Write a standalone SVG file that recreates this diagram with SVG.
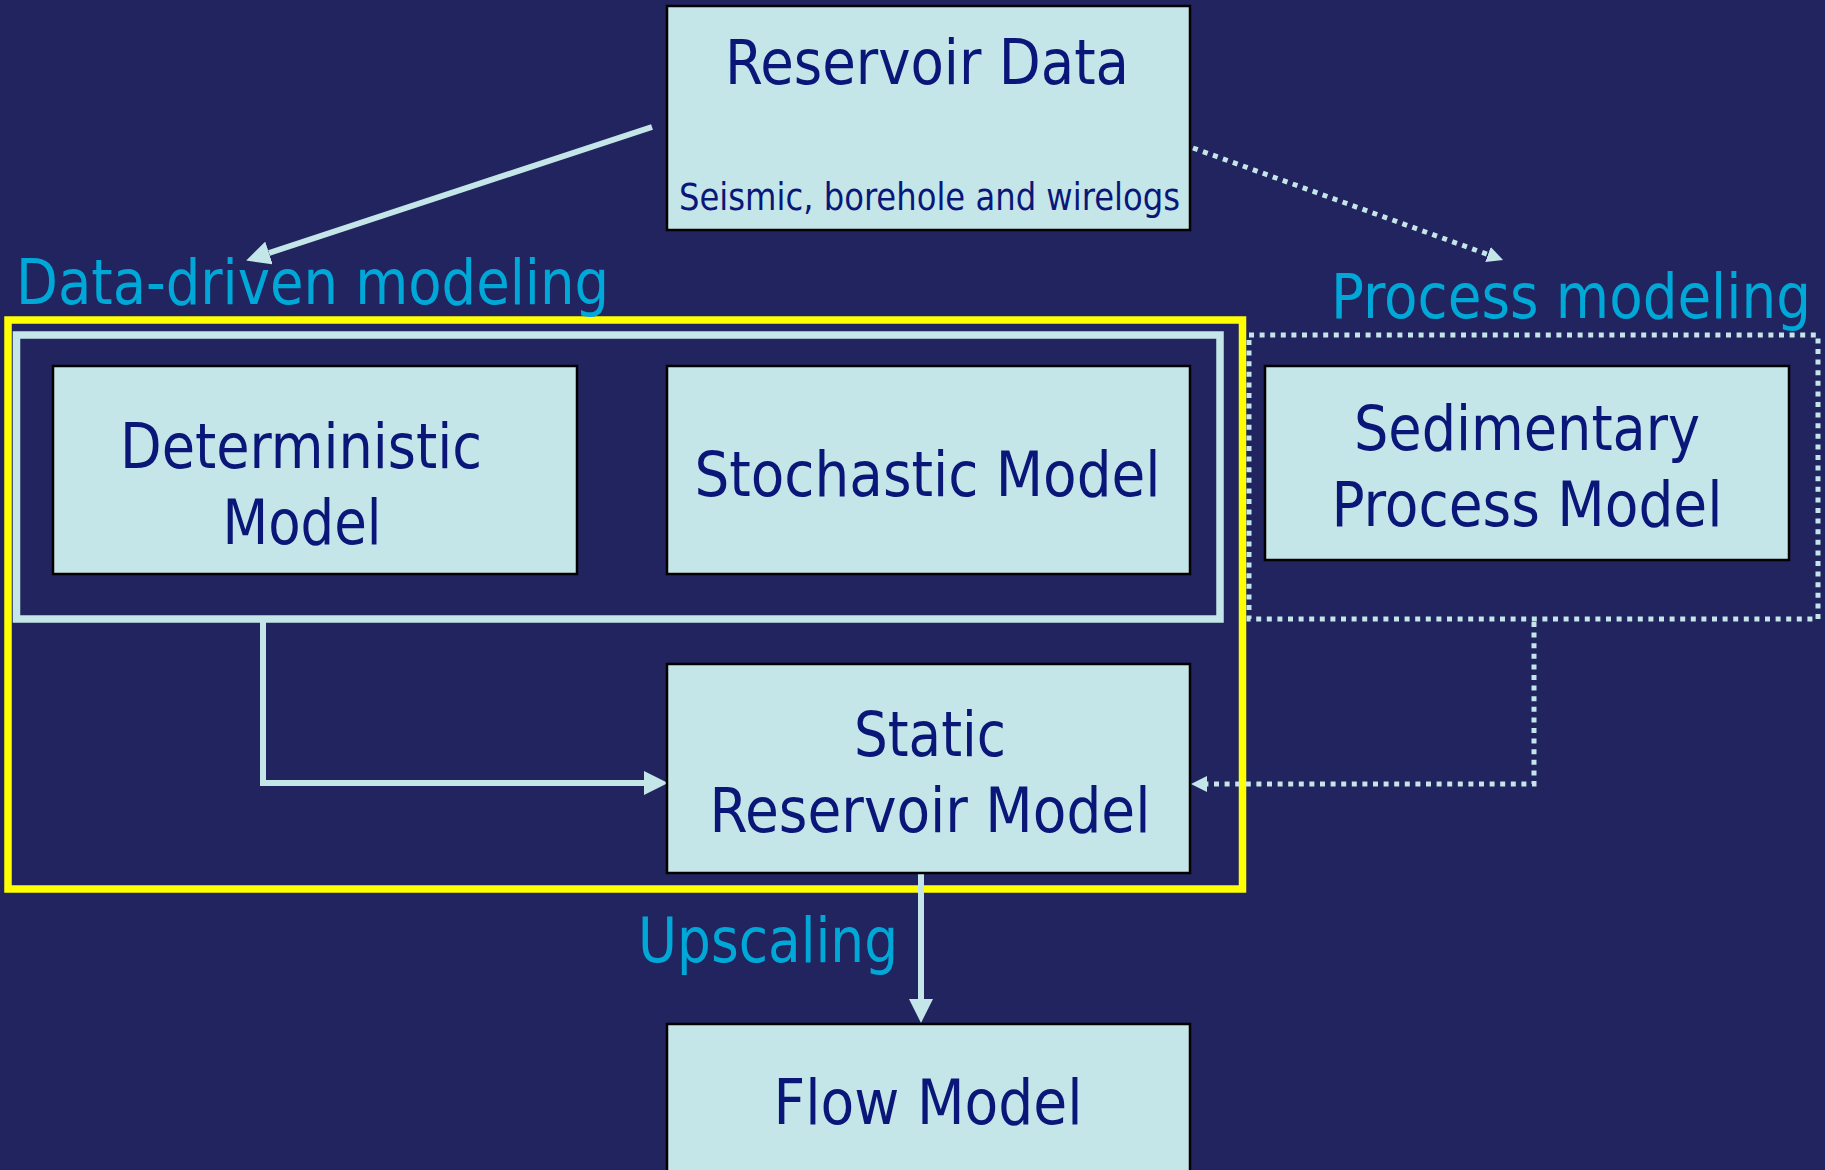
<svg xmlns="http://www.w3.org/2000/svg" width="1825" height="1170" viewBox="0 0 1825 1170">
  <defs>
    <style>
      .box { fill: #C4E6E8; stroke: #000; stroke-width: 2.5; }
      .t { font-family: "DejaVu Sans Condensed", "DejaVu Sans", sans-serif; fill: #0A1778; text-anchor: middle; }
      .big { font-size: 63px; }
      .small { font-size: 37px; }
      .lbl { font-family: "DejaVu Sans Condensed", "DejaVu Sans", sans-serif; fill: #00A8D8; font-size: 63px; }
      .solid { fill: none; stroke: #C4E6E8; stroke-width: 6; }
      .dot { fill: none; stroke: #C4E6E8; stroke-width: 5; stroke-dasharray: 5 5.6; }
    </style>
    <marker id="arrowBig" markerUnits="userSpaceOnUse" markerWidth="24" markerHeight="24" refX="0" refY="12" orient="auto" viewBox="0 0 24 24">
      <path d="M0,0 L24,12 L0,24 Z" fill="#C4E6E8"/>
    </marker>
    <marker id="arrowSmall" markerUnits="userSpaceOnUse" markerWidth="16" markerHeight="16" refX="0" refY="8" orient="auto" viewBox="0 0 16 16">
      <path d="M0,0 L16,8 L0,16 Z" fill="#C4E6E8"/>
    </marker>
  </defs>

  <rect x="0" y="0" width="1825" height="1170" fill="#21245F"/>

  <g id="frames">
    <rect id="yellow-frame" x="8" y="320" width="1234.5" height="569" fill="none" stroke="#FFFF00" stroke-width="7.5"/>
    <rect id="data-driven-frame" x="16.5" y="335" width="1203.5" height="284" fill="none" stroke="#C4E6E8" stroke-width="7.5"/>
    <rect id="process-frame" class="dot" x="1249" y="335" width="569" height="284"/>
  </g>

  <g id="connectors">
    <path class="solid" d="M652,127 L269,253" marker-end="url(#arrowBig)"/>
    <path class="solid" d="M263,622 V783 H644" marker-end="url(#arrowBig)"/>
    <path class="solid" d="M921,873 V999" marker-end="url(#arrowBig)"/>
    <path class="dot" d="M1193,148 L1488,254.5" marker-end="url(#arrowSmall)"/>
    <path class="dot" d="M1534,622 V784 H1207" marker-end="url(#arrowSmall)"/>
  </g>

  <g id="labels">
    <text class="lbl" x="16" y="304" textLength="593" lengthAdjust="spacingAndGlyphs">Data-driven modeling</text>
    <text class="lbl" x="1331" y="318" textLength="480" lengthAdjust="spacingAndGlyphs">Process modeling</text>
    <text class="lbl" x="638" y="962" textLength="260" lengthAdjust="spacingAndGlyphs">Upscaling</text>
  </g>

  <g id="reservoir-data">
    <rect class="box" x="667" y="6" width="523" height="224"/>
    <text class="t big" x="927" y="84" textLength="404" lengthAdjust="spacingAndGlyphs">Reservoir Data</text>
    <text class="t small" x="929.5" y="210" textLength="501" lengthAdjust="spacingAndGlyphs">Seismic, borehole and wirelogs</text>
  </g>

  <g id="deterministic-model">
    <rect class="box" x="53" y="366" width="524" height="208"/>
    <text class="t big" x="301" y="468" textLength="362" lengthAdjust="spacingAndGlyphs">Deterministic</text>
    <text class="t big" x="302" y="544" textLength="159" lengthAdjust="spacingAndGlyphs">Model</text>
  </g>

  <g id="stochastic-model">
    <rect class="box" x="667" y="366" width="523" height="208"/>
    <text class="t big" x="927.5" y="496" textLength="466" lengthAdjust="spacingAndGlyphs">Stochastic Model</text>
  </g>

  <g id="sedimentary-process-model">
    <rect class="box" x="1265" y="366" width="524" height="194"/>
    <text class="t big" x="1527" y="450" textLength="346" lengthAdjust="spacingAndGlyphs">Sedimentary</text>
    <text class="t big" x="1527" y="526" textLength="391" lengthAdjust="spacingAndGlyphs">Process Model</text>
  </g>

  <g id="static-reservoir-model">
    <rect class="box" x="667" y="664" width="523" height="209"/>
    <text class="t big" x="930" y="756" textLength="152" lengthAdjust="spacingAndGlyphs">Static</text>
    <text class="t big" x="930" y="832" textLength="441" lengthAdjust="spacingAndGlyphs">Reservoir Model</text>
  </g>

  <g id="flow-model">
    <rect class="box" x="667" y="1024" width="523" height="170"/>
    <text class="t big" x="928" y="1124" textLength="309" lengthAdjust="spacingAndGlyphs">Flow Model</text>
  </g>
</svg>
